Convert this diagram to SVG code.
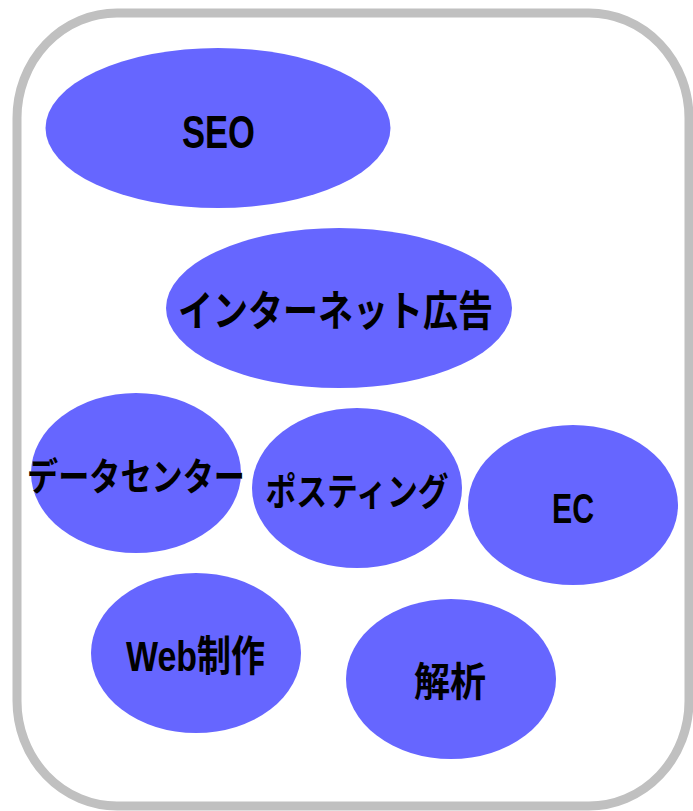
<svg xmlns="http://www.w3.org/2000/svg" width="693" height="811" viewBox="0 0 693 811">
<style>
.bg{fill:#ffffff;stroke:#c0c0c0;stroke-width:9}
.n{fill:#6666ff;stroke:none}
.t{font-family:"Liberation Sans","Noto Sans CJK JP",sans-serif;font-weight:bold;fill:#000;text-anchor:middle;dominant-baseline:central}
</style>
<rect x="0" y="0" width="693" height="811" fill="#ffffff"/>
<rect class="bg" x="17" y="13" width="672" height="793" rx="100" ry="105"/>
<g id="seo">
<ellipse class="n" cx="218" cy="128" rx="172.5" ry="80"/>
<text class="t" x="218.5" y="131.5" font-size="46" textLength="73" lengthAdjust="spacingAndGlyphs">SEO</text>
</g>
<g id="internet-ad">
<ellipse class="n" cx="339" cy="308" rx="173" ry="80"/>
<text class="t" x="335.5" y="311.5" font-size="42" textLength="315" lengthAdjust="spacingAndGlyphs">インターネット広告</text>
</g>
<g id="datacenter">
<ellipse class="n" cx="136" cy="473" rx="105" ry="80"/>
<text class="t" x="136" y="476.5" font-size="38" textLength="218" lengthAdjust="spacingAndGlyphs">データセンター</text>
</g>
<g id="posting">
<ellipse class="n" cx="357" cy="488" rx="105" ry="80"/>
<text class="t" x="357" y="491.5" font-size="38" textLength="183" lengthAdjust="spacingAndGlyphs">ポスティング</text>
</g>
<g id="ec">
<ellipse class="n" cx="573" cy="505" rx="105" ry="80"/>
<text class="t" x="573" y="508" font-size="42" textLength="42" lengthAdjust="spacingAndGlyphs">EC</text>
</g>
<g id="web">
<ellipse class="n" cx="196" cy="653" rx="105" ry="80"/>
<text class="t" x="195.5" y="656.5" font-size="42" textLength="139" lengthAdjust="spacingAndGlyphs">Web制作</text>
</g>
<g id="analysis">
<ellipse class="n" cx="451" cy="679" rx="105" ry="80"/>
<text class="t" x="450" y="681.5" font-size="40" textLength="72" lengthAdjust="spacingAndGlyphs">解析</text>
</g>
<g id="connectors"></g>
</svg>
